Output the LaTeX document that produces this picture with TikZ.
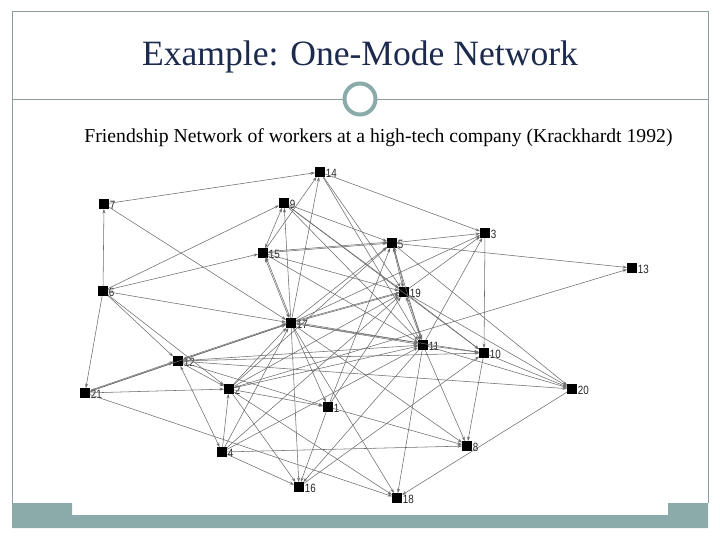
\documentclass[tikz,border=0pt]{standalone}
\usepackage{fontspec}
\setmainfont{Liberation Serif}
\newfontfamily\labfont[FakeStretch=0.82]{Liberation Sans}
\usetikzlibrary{arrows.meta}
\definecolor{teal1}{HTML}{8BABAB}
\definecolor{frame1}{HTML}{8E9E9E}
\definecolor{navy1}{HTML}{1C2A4E}
\definecolor{edge1}{HTML}{6E6E6E}
\tikzset{
  net/.style={rectangle, fill=black, minimum size=9.5pt, inner sep=0pt,
    label={[labfont, text=black!85, inner sep=0.8pt, anchor=west, yshift=-1.5pt]east:#1}},
  e/.style={draw=edge1, line width=0.55pt, -{Stealth[length=4.5pt,width=3pt]}},
  bi/.style={draw=edge1, line width=0.55pt, {Stealth[length=4.5pt,width=3pt]}-{Stealth[length=4.5pt,width=3pt]}},
  labfont/.style={font=\labfont\fontsize{12}{12}\selectfont}
}
\begin{document}
\begin{tikzpicture}[x=1pt,y=-1pt]
\useasboundingbox (0,0) rectangle (720,540);
\fill[white] (0,0) rectangle (720,540);
% frame
\draw[frame1, line width=1pt] (12,503) -- (12,12) -- (708,12) -- (708,503);
\draw[frame1, line width=1pt] (12,100) -- (343,100);
\draw[frame1, line width=1pt] (377,100) -- (708,100);
\node[draw=teal1, line width=4pt, circle, inner sep=0pt, minimum size=31pt] (ring) at (360,99) {};
% bottom band
\fill[teal1] (12,503) -- (72,503) -- (72,515) -- (668,515) -- (668,503) -- (708,503) -- (708,528) -- (12,528) -- cycle;
% title
\node[text=navy1, font=\fontsize{35.6}{38}\selectfont, anchor=base] (title) at (360,66) {Example: One-Mode Network};
\node[text=black, font=\fontsize{19.7}{22}\selectfont, anchor=base] (sub) at (378.5,143) {Friendship Network of workers at a high-tech company (Krackhardt 1992)};
% nodes
\node[net=1]  (n1)  at (328,407) {};
\node[net=2]  (n2)  at (229,389) {};
\node[net=3]  (n3)  at (485,233) {};
\node[net=4]  (n4)  at (222,452) {};
\node[net=5]  (n5)  at (392,243) {};
\node[net=6]  (n6)  at (103,291) {};
\node[net=7]  (n7)  at (104,204) {};
\node[net=8]  (n8)  at (467,446) {};
\node[net=9]  (n9)  at (284,203) {};
\node[net=10] (n10) at (484,353) {};
\node[net=11] (n11) at (423,345) {};
\node[net=12] (n12) at (178,361) {};
\node[net=13] (n13) at (632,268) {};
\node[net=14] (n14) at (320,172) {};
\node[net=15] (n15) at (263,253) {};
\node[net=16] (n16) at (299,487) {};
\node[net=17] (n17) at (291,323) {};
\node[net=18] (n18) at (397,498) {};
\node[net=19] (n19) at (404,292) {};
\node[net=20] (n20) at (572,389) {};
\node[net=21] (n21) at (85,393) {};
% edges
\foreach \a/\b in {n7/n14, n7/n17, n6/n7, n6/n9, n6/n15, n6/n17, n6/n21, n6/n12, n6/n2,
  n21/n17, n21/n2, n21/n18,
  n12/n11, n12/n10, n12/n2, n12/n1, n12/n20,
  n2/n17, n2/n5, n2/n19, n2/n11, n2/n1, n2/n16, n2/n18, n2/n13,
  n4/n2, n4/n17, n4/n11, n4/n19, n4/n16, n4/n8,
  n17/n14, n17/n9, n17/n5, n17/n3, n17/n10, n17/n1, n17/n16, n17/n8, n17/n18,
  n15/n19, n15/n11, n15/n14,
  n9/n5, n9/n19, n9/n11, n9/n10,
  n14/n3, n14/n19, n14/n11,
  n5/n3, n5/n13, n5/n20, n5/n11,
  n3/n10,
  n19/n20, n19/n10, n19/n3,
  n11/n10, n11/n20, n11/n18, n11/n8, n11/n16, n11/n3,
  n10/n20, n10/n8,
  n20/n18,
  n1/n8, n1/n16, n1/n19, n1/n5,
  n16/n10}
  \draw[e] (\a) -- (\b);
\foreach \a/\b in {n4/n12, n9/n15, n12/n17, n17/n15, n15/n5, n19/n5, n19/n11, n17/n11, n17/n19, n21/n12}
  \draw[bi] (\a) -- (\b);
\foreach \a/\b in {n12/n17, n17/n15, n15/n5, n19/n5, n19/n11, n17/n11, n17/n19, n21/n12}
  \draw[e, transform canvas={shift={(0.9pt,1.2pt)}}] (\a) -- (\b);
\end{tikzpicture}
\end{document}
